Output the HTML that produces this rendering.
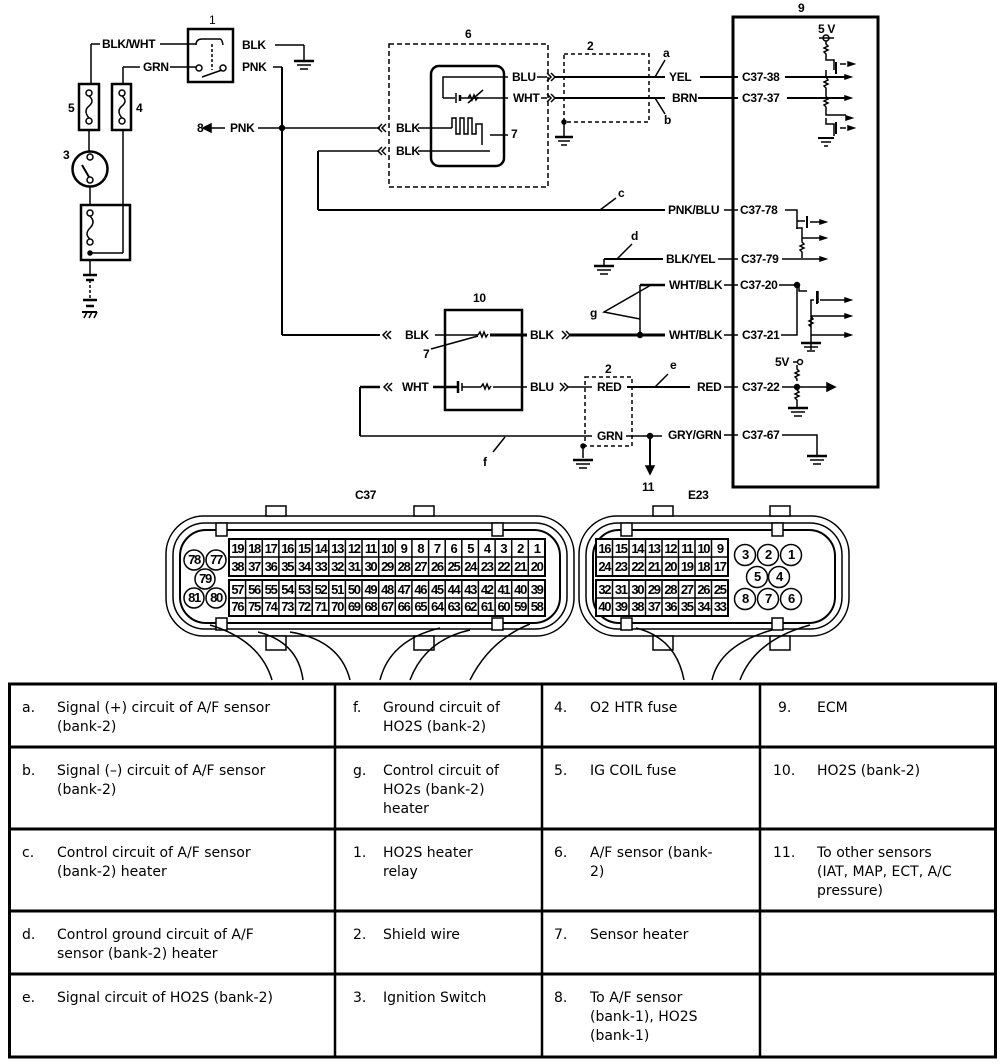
<!DOCTYPE html>
<html><head><meta charset="utf-8"><style>
html,body{margin:0;padding:0;background:#fff;}
svg{display:block;}
.l{font-family:"Liberation Sans",Arial,sans-serif;font-weight:bold;font-size:12px;fill:#000;letter-spacing:-0.3px;}
.p{font-family:"Liberation Sans",Arial,sans-serif;font-weight:bold;font-size:13px;fill:#000;letter-spacing:-1.3px;}
.t{font-family:"DejaVu Sans",Verdana,sans-serif;font-size:14px;fill:#000;}
</style></head><body>
<svg width="1008" height="1064" viewBox="0 0 1008 1064" xmlns="http://www.w3.org/2000/svg">
<g stroke="#000" fill="none" stroke-width="1.5">
<rect x="188" y="29" width="45" height="53" stroke-width="2.5"/>
<path d="M196 45 q0 -6 6 -6 h18 q2 0 3 6"/>
<circle cx="199" cy="68" r="3"/><circle cx="223" cy="68" r="3"/>
<line x1="202" y1="77" x2="222" y2="70"/>
<line x1="212" y1="44" x2="212" y2="70" stroke-dasharray="3,2"/>
<line x1="91" y1="44" x2="100" y2="44"/><line x1="91" y1="44" x2="91" y2="84"/>
<line x1="160" y1="44" x2="196" y2="44"/>
<line x1="123" y1="67" x2="140" y2="67"/><line x1="123" y1="67" x2="123" y2="84"/>
<line x1="170" y1="67" x2="196" y2="67"/>
<rect x="79" y="84" width="20" height="46" stroke-width="2.5"/>
<rect x="112" y="84" width="19" height="46" stroke-width="2.5"/>
<circle cx="89" cy="93" r="3"/><circle cx="89" cy="121" r="3"/><path d="M89 96 q6 5 0 10 q-6 5 0 12"/>
<circle cx="122" cy="93" r="3"/><circle cx="122" cy="121" r="3"/><path d="M122 96 q6 5 0 10 q-6 5 0 12"/>
<line x1="89" y1="130" x2="89" y2="152"/>
<line x1="123" y1="130" x2="123" y2="253"/>
<circle cx="90" cy="169" r="17.5" stroke-width="2.5"/>
<circle cx="90" cy="157" r="3"/><circle cx="90" cy="180" r="3"/><line x1="82" y1="165" x2="89" y2="177" stroke-width="2"/>
<line x1="90" y1="187" x2="90" y2="205"/>
<rect x="81" y="205" width="49" height="55" stroke-width="2.5"/>
<circle cx="90" cy="213" r="3"/><circle cx="90" cy="242" r="3"/><path d="M90 216 q6 6 0 12 q-6 6 0 11"/>
<line x1="123" y1="253" x2="90" y2="253"/><circle cx="90" cy="253" r="2" fill="#000"/>
<line x1="90" y1="260" x2="90" y2="275"/>
<line x1="83" y1="275" x2="97" y2="275" stroke-width="2.5"/><line x1="86" y1="280" x2="94" y2="280" stroke-width="2.5"/>
<line x1="90" y1="280" x2="90" y2="300" stroke-dasharray="3,2"/>
<line x1="83" y1="300" x2="97" y2="300" stroke-width="2.5"/><line x1="86" y1="306" x2="94" y2="306" stroke-width="2.5"/>
<line x1="82" y1="312" x2="97" y2="312" stroke-width="2"/><path d="M84 318 l3-6 M89 318 l3-6 M94 318 l3-6"/>
<line x1="275" y1="45" x2="304" y2="45"/><line x1="304" y1="45" x2="304" y2="60"/>
<line x1="294" y1="61" x2="314" y2="61" stroke-width="2.5"/><line x1="297" y1="65" x2="311" y2="65"/><line x1="300" y1="69" x2="308" y2="69"/>
<line x1="273" y1="67" x2="282" y2="67"/><line x1="282" y1="67" x2="282" y2="335" stroke-width="2"/>
<circle cx="282" cy="128" r="2.5" fill="#000"/>
<line x1="258" y1="128" x2="380" y2="128"/>
<line x1="210" y1="128" x2="225" y2="128"/><path d="M203 128 l8 -4 v8 z" fill="#000"/>
<rect x="389" y="44" width="159" height="143" stroke-dasharray="5,3"/>
<rect x="431" y="66" width="73" height="100" rx="8" stroke-width="2.5"/>
<path d="M443 98 v-21 h65"/>
<line x1="443" y1="98" x2="455" y2="98"/>
<line x1="456" y1="93" x2="456" y2="103"/><line x1="460" y1="95" x2="460" y2="101" stroke-width="2.5"/>
<line x1="460" y1="98" x2="508" y2="98"/><path d="M468 98 l2-3 2 5 2-5 2 5 2-3"/><line x1="468" y1="103" x2="483" y2="90"/>
<line x1="418" y1="128" x2="452" y2="128"/>
<path d="M452 128 v-10 h4 v16 h4 v-16 h4 v16 h4 v-16 h4 v16 h4 v-10 h6 v21"/>
<line x1="418" y1="151" x2="490" y2="151"/>
<line x1="490" y1="135" x2="508" y2="135"/>
<path d="M382 124 l-4 4 4 4 M386 124 l-4 4 4 4"/>
<path d="M382 147 l-4 4 4 4 M386 147 l-4 4 4 4"/>
<line x1="378" y1="151" x2="318" y2="151"/><line x1="318" y1="151" x2="318" y2="210" stroke-width="2"/>
<line x1="318" y1="210" x2="665" y2="210" stroke-width="2"/>
<line x1="600" y1="210" x2="616" y2="198"/>
<path d="M547 73 l4 4 -4 4 M551 73 l4 4 -4 4"/>
<path d="M547 94 l4 4 -4 4 M551 94 l4 4 -4 4"/>
<line x1="537" y1="77" x2="547" y2="77"/><line x1="541" y1="98" x2="547" y2="98"/>
<line x1="555" y1="77" x2="665" y2="77" stroke-width="2"/><line x1="555" y1="98" x2="665" y2="98" stroke-width="2"/>
<rect x="564" y="54" width="85" height="68" stroke-dasharray="4,3"/>
<line x1="564" y1="122" x2="564" y2="136"/><circle cx="564" cy="122" r="2" fill="#000"/>
<line x1="555" y1="137" x2="573" y2="137" stroke-width="2.5"/><line x1="558" y1="141" x2="570" y2="141"/><line x1="561" y1="145" x2="567" y2="145"/>
<line x1="655" y1="77" x2="665" y2="60"/><line x1="655" y1="98" x2="665" y2="114"/>
<line x1="700" y1="77" x2="738" y2="77" stroke-width="2"/>
<line x1="698" y1="98" x2="738" y2="98" stroke-width="2"/>
<line x1="724" y1="210" x2="738" y2="210"/>
<line x1="604" y1="259" x2="663" y2="259" stroke-width="2"/><line x1="604" y1="259" x2="604" y2="265"/>
<line x1="594" y1="266" x2="614" y2="266" stroke-width="2.5"/><line x1="597" y1="270" x2="611" y2="270"/><line x1="600" y1="274" x2="608" y2="274"/>
<line x1="617" y1="259" x2="632" y2="244"/>
<line x1="718" y1="259" x2="738" y2="259"/>
<line x1="640" y1="285" x2="665" y2="285" stroke-width="2.5"/>
<line x1="640" y1="285" x2="640" y2="335"/>
<path d="M651 285 L604 312 L640 319"/>
<line x1="724" y1="285" x2="738" y2="285"/><line x1="724" y1="335" x2="738" y2="335"/>
<rect x="445" y="310" width="77" height="100" stroke-width="2.5"/>
<line x1="282" y1="335" x2="380" y2="335" stroke-width="2"/>
<path d="M387 331 l-4 4 4 4 M391 331 l-4 4 4 4"/>
<line x1="435" y1="335" x2="478" y2="335"/>
<path d="M478 335 l2-3 2 5 2-5 2 5 2-3"/>
<line x1="490" y1="335" x2="527" y2="335" stroke-width="3"/>
<path d="M562 331 l4 4 -4 4 M566 331 l4 4 -4 4"/>
<line x1="570" y1="335" x2="665" y2="335" stroke-width="3"/>
<circle cx="640" cy="335" r="2.5" fill="#000"/>
<line x1="431" y1="349" x2="478" y2="336"/>
<line x1="360" y1="387" x2="380" y2="387" stroke-width="2.5"/><line x1="360" y1="387" x2="360" y2="436" stroke-width="2"/>
<path d="M388 383 l-4 4 4 4 M392 383 l-4 4 4 4"/>
<line x1="433" y1="387" x2="457" y2="387" stroke-width="2.5"/>
<line x1="458" y1="381" x2="458" y2="393" stroke-width="2.5"/><line x1="462" y1="383" x2="462" y2="391"/>
<line x1="462" y1="387" x2="481" y2="387"/><path d="M481 387 l2-3 2 5 2-5 2 5 2-3"/>
<line x1="493" y1="387" x2="527" y2="387"/>
<path d="M560 383 l4 4 -4 4 M564 383 l4 4 -4 4"/>
<line x1="568" y1="387" x2="592" y2="387"/>
<rect x="585" y="377" width="47" height="69" stroke-dasharray="4,3"/>
<line x1="627" y1="387" x2="690" y2="387" stroke-width="2"/>
<line x1="655" y1="387" x2="668" y2="374"/>
<line x1="360" y1="436" x2="592" y2="436"/>
<line x1="505" y1="437" x2="493" y2="452"/>
<line x1="626" y1="436" x2="662" y2="436"/>
<circle cx="650" cy="436" r="2.5" fill="#000"/><line x1="650" y1="436" x2="650" y2="470" stroke-width="2"/>
<path d="M646 466 l4 8 4 -8 z" fill="#000"/>
<circle cx="583" cy="446" r="2" fill="#000"/><line x1="583" y1="446" x2="583" y2="458"/>
<line x1="573" y1="460" x2="593" y2="460" stroke-width="2.5"/><line x1="576" y1="464" x2="590" y2="464"/><line x1="579" y1="468" x2="587" y2="468"/>
<line x1="724" y1="387" x2="738" y2="387"/><line x1="724" y1="435" x2="738" y2="435"/>
<rect x="733" y="17" width="145" height="470" stroke-width="3"/>
<line x1="785" y1="77" x2="850" y2="77" stroke-width="2"/><line x1="787" y1="98" x2="850" y2="98" stroke-width="2"/>
<circle cx="826" cy="38" r="3"/><line x1="819" y1="38" x2="834" y2="38"/>
<path d="M826 41 v3 l2 2 -4 2 4 2 -4 2 2 2 v6 h8 v10 M826 70 v7 l2 3 -4 2 4 2 -4 2 2 2 v8 l2 3 -4 2 4 2 -4 2 2 2 v8 h20 M826 118 v6 h8 v12"/>
<line x1="836" y1="62" x2="836" y2="74" stroke-width="2"/><line x1="840" y1="64" x2="846" y2="64"/>
<line x1="836" y1="122" x2="836" y2="134" stroke-width="2"/><line x1="840" y1="128" x2="846" y2="128"/>
<line x1="818" y1="138" x2="834" y2="138" stroke-width="2"/><line x1="821" y1="142" x2="831" y2="142"/><line x1="824" y1="146" x2="828" y2="146"/>
<path d="M845 75 l6 2 -6 2z M845 96 l6 2 -6 2z M846 116 l6 2 -6 2z M848 62 l6 2 -6 2z M848 126 l6 2 -6 2z" fill="#000"/>
<path d="M785 210 h12 v11 h8 M797 221 v8 M796 228 h6 v14 l2 2 -4 2 4 2 -4 2 2 2 v6 M782 259 h40"/>
<line x1="807" y1="216" x2="807" y2="228" stroke-width="2"/><line x1="810" y1="222" x2="822" y2="222"/>
<line x1="802" y1="238" x2="822" y2="238"/>
<path d="M820 220 l6 2 -6 2z M820 236 l6 2 -6 2z M820 257 l6 2 -6 2z" fill="#000"/>
<path d="M779 285 h20 v6 h8 M797 285 v50 h-16"/>
<circle cx="797" cy="285" r="2.5" fill="#000"/>
<path d="M818 291 v12 M814 300 h-3 v50 M811 316 h40 M811 316 l2 3 -4 2 4 2 -4 2 2 2 v4 M811 335 h40"/>
<line x1="817" y1="291" x2="817" y2="304" stroke-width="2"/><line x1="820" y1="300" x2="845" y2="300"/>
<line x1="801" y1="343" x2="821" y2="343" stroke-width="2.5"/><line x1="804" y1="347" x2="818" y2="347"/><line x1="807" y1="351" x2="815" y2="351"/>
<path d="M845 298 l6 2 -6 2z M845 314 l6 2 -6 2z M845 333 l6 2 -6 2z" fill="#000"/>
<circle cx="800" cy="362" r="2.5"/><line x1="793" y1="362" x2="797" y2="362"/>
<path d="M797 365 v4 l2 2 -4 2 4 2 -4 2 2 2 v2 M782 387 h45 M797 387 v3 l2 2 -4 2 4 2 -4 2 2 2 v8"/>
<circle cx="797" cy="387" r="2.5" fill="#000"/>
<line x1="788" y1="408" x2="808" y2="408" stroke-width="2.5"/><line x1="791" y1="412" x2="805" y2="412"/><line x1="794" y1="416" x2="802" y2="416"/>
<path d="M827 383 l8 4 -8 4z" fill="#000"/>
<path d="M782 435 h35 v20"/>
<line x1="807" y1="456" x2="827" y2="456" stroke-width="2.5"/><line x1="810" y1="460" x2="824" y2="460"/><line x1="813" y1="464" x2="821" y2="464"/>
<rect x="166" y="516" width="408" height="120" rx="38" stroke-width="1.5"/>
<rect x="173" y="523" width="394" height="106" rx="32"/>
<rect x="180" y="530" width="380" height="93" rx="26" stroke-width="2"/>
<rect x="266" y="506" width="20" height="10" fill="#fff"/><rect x="414" y="506" width="20" height="10" fill="#fff"/>
<rect x="266" y="636" width="20" height="14" fill="#fff"/><rect x="414" y="636" width="20" height="14" fill="#fff"/>
<rect x="216" y="523" width="11" height="13" fill="#fff"/><rect x="492" y="523" width="11" height="13" fill="#fff"/>
<rect x="216" y="618" width="11" height="12" fill="#fff"/><rect x="492" y="618" width="11" height="12" fill="#fff"/>
<rect x="579" y="516" width="270" height="120" rx="38"/>
<rect x="586" y="523" width="256" height="106" rx="32"/>
<rect x="593" y="530" width="242" height="93" rx="26" stroke-width="2"/>
<rect x="653" y="506" width="20" height="10" fill="#fff"/><rect x="770" y="506" width="20" height="10" fill="#fff"/>
<rect x="653" y="636" width="20" height="14" fill="#fff"/><rect x="770" y="636" width="20" height="14" fill="#fff"/>
<rect x="621" y="523" width="11" height="13" fill="#fff"/><rect x="772" y="523" width="11" height="13" fill="#fff"/>
<rect x="621" y="618" width="11" height="12" fill="#fff"/><rect x="772" y="618" width="11" height="12" fill="#fff"/>
<path d="M210 625 q50 15 62 55 M258 632 q40 10 45 48 M290 632 q50 8 60 48 M380 680 q10 -40 60 -52 M410 680 q15 -40 60 -50 M470 680 q20 -40 60 -56 M636 628 q40 10 48 52 M712 680 q8 -35 60 -50 M740 680 q15 -40 70 -55"/>
<rect x="229" y="539" width="316" height="37" fill="#fff" stroke-width="2"/>
<rect x="229" y="580" width="316" height="36" fill="#fff" stroke-width="2"/>
<line x1="229" y1="557" x2="545" y2="557"/><line x1="229" y1="598" x2="545" y2="598"/>
<path d="M245.6 539v37M262.3 539v37M278.9 539v37M295.5 539v37M312.2 539v37M328.8 539v37M345.4 539v37M362 539v37M378.7 539v37M395.3 539v37M411.9 539v37M428.6 539v37M445.2 539v37M461.8 539v37M478.4 539v37M495.1 539v37M511.7 539v37M528.3 539v37"/>
<path d="M245.6 580v36M262.3 580v36M278.9 580v36M295.5 580v36M312.2 580v36M328.8 580v36M345.4 580v36M362 580v36M378.7 580v36M395.3 580v36M411.9 580v36M428.6 580v36M445.2 580v36M461.8 580v36M478.4 580v36M495.1 580v36M511.7 580v36M528.3 580v36"/>
<rect x="596" y="539" width="132" height="37" fill="#fff" stroke-width="2"/>
<rect x="596" y="580" width="132" height="36" fill="#fff" stroke-width="2"/>
<line x1="596" y1="557" x2="728" y2="557"/><line x1="596" y1="598" x2="728" y2="598"/>
<path d="M612.5 539v37M629 539v37M645.5 539v37M662 539v37M678.5 539v37M695 539v37M711.5 539v37M612.5 580v36M629 580v36M645.5 580v36M662 580v36M678.5 580v36M695 580v36M711.5 580v36"/>
<circle cx="194" cy="560" r="10"/><circle cx="216" cy="560" r="10"/><circle cx="205" cy="579" r="10"/><circle cx="194" cy="598" r="10"/><circle cx="216" cy="598" r="10"/>
<circle cx="745" cy="555" r="10.5"/><circle cx="768" cy="555" r="10.5"/><circle cx="791" cy="555" r="10.5"/><circle cx="757" cy="577" r="10.5"/><circle cx="779" cy="577" r="10.5"/><circle cx="745" cy="599" r="10.5"/><circle cx="768" cy="599" r="10.5"/><circle cx="791" cy="599" r="10.5"/>
<rect x="9.5" y="684" width="986" height="373" stroke-width="3"/>
<path d="M335 684v373M542 684v373M760 684v373" stroke-width="2.5"/>
<path d="M9 747h987M9 829h987M9 911h987M9 974h987" stroke-width="3"/>
</g>
<g class="l">
<text x="209" y="24" font-weight="normal">1</text>
<text x="102" y="48">BLK/WHT</text><text x="143" y="71">GRN</text>
<text x="68" y="112">5</text><text x="136" y="112">4</text><text x="63" y="159">3</text>
<text x="242" y="49">BLK</text><text x="242" y="71">PNK</text>
<text x="197" y="132">8</text><text x="230" y="132">PNK</text>
<text x="465" y="38">6</text>
<text x="396" y="132">BLK</text><text x="396" y="155">BLK</text><text x="511" y="138">7</text>
<text x="512" y="81">BLU</text><text x="513" y="102">WHT</text>
<text x="587" y="50">2</text><text x="663" y="57">a</text><text x="664" y="124">b</text>
<text x="669" y="81">YEL</text><text x="672" y="102">BRN</text>
<text x="742" y="81">C37-38</text><text x="742" y="102">C37-37</text>
<text x="798" y="12">9</text><text x="818" y="33">5 V</text>
<text x="618" y="197">c</text><text x="668" y="214">PNK/BLU</text><text x="740" y="214">C37-78</text>
<text x="631" y="240">d</text><text x="666" y="263">BLK/YEL</text><text x="741" y="263">C37-79</text>
<text x="669" y="289">WHT/BLK</text><text x="740" y="289">C37-20</text>
<text x="590" y="317">g</text>
<text x="669" y="339">WHT/BLK</text><text x="742" y="339">C37-21</text>
<text x="473" y="302">10</text>
<text x="405" y="339">BLK</text><text x="530" y="339">BLK</text><text x="423" y="358">7</text>
<text x="402" y="391">WHT</text><text x="530" y="391">BLU</text>
<text x="605" y="373">2</text><text x="597" y="391">RED</text><text x="670" y="369">e</text>
<text x="697" y="391">RED</text><text x="742" y="391">C37-22</text><text x="775" y="366">5V</text>
<text x="597" y="440">GRN</text><text x="668" y="439">GRY/GRN</text><text x="742" y="439">C37-67</text>
<text x="483" y="466">f</text><text x="642" y="491">11</text>
<text x="355" y="499">C37</text><text x="688" y="499">E23</text>
</g>
<g class="p" text-anchor="middle">
<text x="237.3" y="553">19</text><text x="254" y="553">18</text><text x="270.6" y="553">17</text><text x="287.2" y="553">16</text><text x="303.9" y="553">15</text><text x="320.5" y="553">14</text><text x="337.1" y="553">13</text><text x="353.8" y="553">12</text><text x="370.4" y="553">11</text><text x="387" y="553">10</text><text x="403.6" y="553">9</text><text x="420.3" y="553">8</text><text x="436.9" y="553">7</text><text x="453.5" y="553">6</text><text x="470.2" y="553">5</text><text x="486.8" y="553">4</text><text x="503.4" y="553">3</text><text x="520.1" y="553">2</text><text x="536.7" y="553">1</text>
<text x="237.3" y="571">38</text><text x="254" y="571">37</text><text x="270.6" y="571">36</text><text x="287.2" y="571">35</text><text x="303.9" y="571">34</text><text x="320.5" y="571">33</text><text x="337.1" y="571">32</text><text x="353.8" y="571">31</text><text x="370.4" y="571">30</text><text x="387" y="571">29</text><text x="403.6" y="571">28</text><text x="420.3" y="571">27</text><text x="436.9" y="571">26</text><text x="453.5" y="571">25</text><text x="470.2" y="571">24</text><text x="486.8" y="571">23</text><text x="503.4" y="571">22</text><text x="520.1" y="571">21</text><text x="536.7" y="571">20</text>
<text x="237.3" y="594">57</text><text x="254" y="594">56</text><text x="270.6" y="594">55</text><text x="287.2" y="594">54</text><text x="303.9" y="594">53</text><text x="320.5" y="594">52</text><text x="337.1" y="594">51</text><text x="353.8" y="594">50</text><text x="370.4" y="594">49</text><text x="387" y="594">48</text><text x="403.6" y="594">47</text><text x="420.3" y="594">46</text><text x="436.9" y="594">45</text><text x="453.5" y="594">44</text><text x="470.2" y="594">43</text><text x="486.8" y="594">42</text><text x="503.4" y="594">41</text><text x="520.1" y="594">40</text><text x="536.7" y="594">39</text>
<text x="237.3" y="611">76</text><text x="254" y="611">75</text><text x="270.6" y="611">74</text><text x="287.2" y="611">73</text><text x="303.9" y="611">72</text><text x="320.5" y="611">71</text><text x="337.1" y="611">70</text><text x="353.8" y="611">69</text><text x="370.4" y="611">68</text><text x="387" y="611">67</text><text x="403.6" y="611">66</text><text x="420.3" y="611">65</text><text x="436.9" y="611">64</text><text x="453.5" y="611">63</text><text x="470.2" y="611">62</text><text x="486.8" y="611">61</text><text x="503.4" y="611">60</text><text x="520.1" y="611">59</text><text x="536.7" y="611">58</text>
<text x="604.3" y="553">16</text><text x="620.8" y="553">15</text><text x="637.3" y="553">14</text><text x="653.8" y="553">13</text><text x="670.3" y="553">12</text><text x="686.8" y="553">11</text><text x="703.3" y="553">10</text><text x="719.8" y="553">9</text>
<text x="604.3" y="571">24</text><text x="620.8" y="571">23</text><text x="637.3" y="571">22</text><text x="653.8" y="571">21</text><text x="670.3" y="571">20</text><text x="686.8" y="571">19</text><text x="703.3" y="571">18</text><text x="719.8" y="571">17</text>
<text x="604.3" y="594">32</text><text x="620.8" y="594">31</text><text x="637.3" y="594">30</text><text x="653.8" y="594">29</text><text x="670.3" y="594">28</text><text x="686.8" y="594">27</text><text x="703.3" y="594">26</text><text x="719.8" y="594">25</text>
<text x="604.3" y="611">40</text><text x="620.8" y="611">39</text><text x="637.3" y="611">38</text><text x="653.8" y="611">37</text><text x="670.3" y="611">36</text><text x="686.8" y="611">35</text><text x="703.3" y="611">34</text><text x="719.8" y="611">33</text>
<text x="194" y="564">78</text><text x="216" y="564">77</text><text x="205" y="583">79</text><text x="194" y="602">81</text><text x="216" y="602">80</text>
<text x="745" y="559">3</text><text x="768" y="559">2</text><text x="791" y="559">1</text><text x="757" y="581">5</text><text x="779" y="581">4</text><text x="745" y="603">8</text><text x="768" y="603">7</text><text x="791" y="603">6</text>
</g>
<g class="t">
<text x="22" y="712">a.</text><text x="57" y="712">Signal (+) circuit of A/F sensor</text><text x="57" y="731">(bank-2)</text>
<text x="353" y="712">f.</text><text x="383" y="712">Ground circuit of</text><text x="383" y="731">HO2S (bank-2)</text>
<text x="554" y="712">4.</text><text x="590" y="712">O2 HTR fuse</text>
<text x="778" y="712">9.</text><text x="817" y="712">ECM</text>
<text x="22" y="775">b.</text><text x="57" y="775">Signal (–) circuit of A/F sensor</text><text x="57" y="794">(bank-2)</text>
<text x="353" y="775">g.</text><text x="383" y="775">Control circuit of</text><text x="383" y="794">HO2s (bank-2)</text><text x="383" y="813">heater</text>
<text x="554" y="775">5.</text><text x="590" y="775">IG COIL fuse</text>
<text x="773" y="775">10.</text><text x="817" y="775">HO2S (bank-2)</text>
<text x="22" y="857">c.</text><text x="57" y="857">Control circuit of A/F sensor</text><text x="57" y="876">(bank-2) heater</text>
<text x="353" y="857">1.</text><text x="383" y="857">HO2S heater</text><text x="383" y="876">relay</text>
<text x="554" y="857">6.</text><text x="590" y="857">A/F sensor (bank-</text><text x="590" y="876">2)</text>
<text x="773" y="857">11.</text><text x="817" y="857">To other sensors</text><text x="817" y="876">(IAT, MAP, ECT, A/C</text><text x="817" y="895">pressure)</text>
<text x="22" y="939">d.</text><text x="57" y="939">Control ground circuit of A/F</text><text x="57" y="958">sensor (bank-2) heater</text>
<text x="353" y="939">2.</text><text x="383" y="939">Shield wire</text>
<text x="554" y="939">7.</text><text x="590" y="939">Sensor heater</text>
<text x="22" y="1002">e.</text><text x="57" y="1002">Signal circuit of HO2S (bank-2)</text>
<text x="353" y="1002">3.</text><text x="383" y="1002">Ignition Switch</text>
<text x="554" y="1002">8.</text><text x="590" y="1002">To A/F sensor</text><text x="590" y="1021">(bank-1), HO2S</text><text x="590" y="1040">(bank-1)</text>
</g>
</svg>
</body></html>
